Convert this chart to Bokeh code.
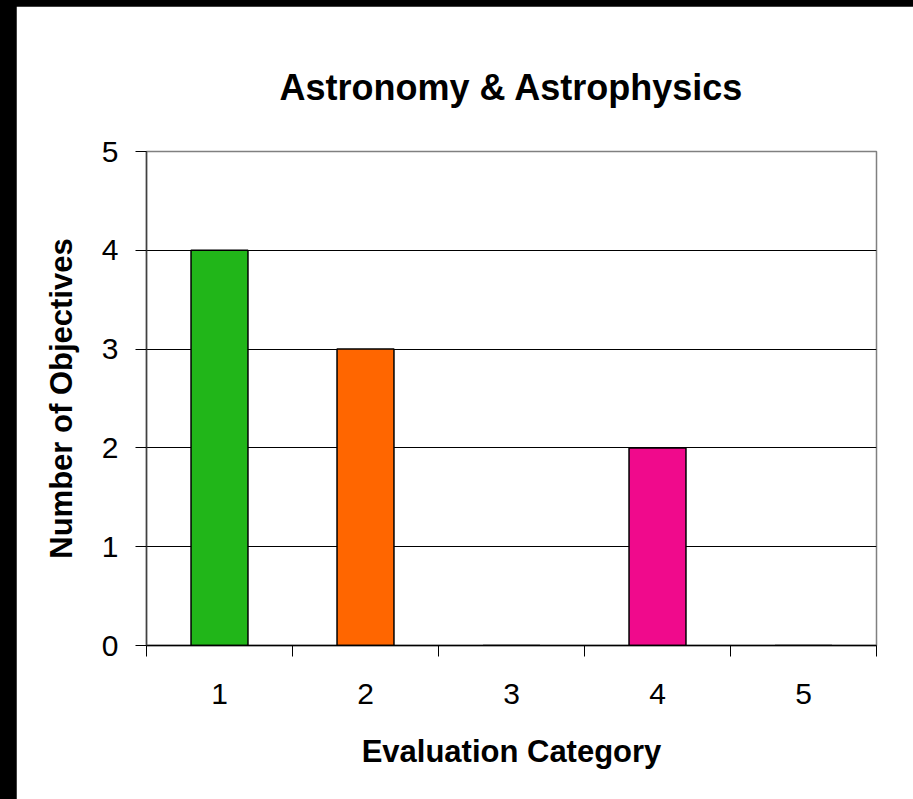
from bokeh.plotting import figure
from bokeh.models import FixedTicker, ColumnDataSource, Range1d
from bokeh.layouts import column
from bokeh.embed import file_html
from bokeh.resources import INLINE

categories = [1, 2, 3, 4, 5]
values = [4, 3, 0, 2, 0]
colors = ["#21B619", "#FF6600", "#F00A8C", "#F00A8C", "#FFFFFF"]
y_ticks = [0, 1, 2, 3, 4, 5]
title_text = "Astronomy & Astrophysics"
x_title = "Evaluation Category"
y_title = "Number of Objectives"

src = ColumnDataSource(dict(x=categories, top=values, color=colors))

p = figure(width=897, height=793, output_backend="svg", toolbar_location=None,
           x_range=Range1d(0.5, 5.5), y_range=Range1d(0, 5),
           min_border_left=130, min_border_right=37, min_border_top=145,
           min_border_bottom=154, background_fill_color="white",
           border_fill_color="white", title=title_text)
p.margin = (6, 0, 0, 16)

p.vbar(x="x", top="top", bottom=0, width=0.39, fill_color="color",
       line_color="black", line_width=1.5, source=src)

p.outline_line_color = "#808080"
p.outline_line_width = 1.5

p.title.align = "center"
p.title.text_font = "Liberation Sans"
p.title.text_font_size = "36px"
p.title.text_font_style = "bold"
p.title.text_color = "black"
p.title.standoff = 88

p.xgrid.grid_line_color = None
p.ygrid.ticker = FixedTicker(ticks=[1, 2, 3, 4])
p.ygrid.grid_line_color = "black"
p.ygrid.grid_line_width = 1

# x axis
p.xaxis.ticker = FixedTicker(ticks=categories, minor_ticks=[c - 0.5 for c in categories] + [categories[-1] + 0.5])
p.xaxis.major_tick_line_color = None
p.xaxis.major_tick_out = 11
p.xaxis.major_tick_in = 0
p.xaxis.minor_tick_line_color = "black"
p.xaxis.minor_tick_out = 11
p.xaxis.minor_tick_in = 0
p.xaxis.minor_tick_line_width = 1
p.xaxis.axis_line_color = "black"
p.xaxis.axis_line_width = 1.5
p.xaxis.major_label_text_font = "Liberation Sans"
p.xaxis.major_label_text_font_size = "30px"
p.xaxis.major_label_text_color = "black"
p.xaxis.major_label_standoff = 27
p.xaxis.axis_label = x_title
p.xaxis.axis_label_text_font = "Liberation Sans"
p.xaxis.axis_label_text_font_size = "31px"
p.xaxis.axis_label_text_font_style = "bold"
p.xaxis.axis_label_text_color = "black"
p.xaxis.axis_label_standoff = 27

# y axis
p.yaxis.ticker = FixedTicker(ticks=y_ticks)
p.yaxis.minor_tick_line_color = None
p.yaxis.major_tick_out = 11
p.yaxis.major_tick_in = 0
p.yaxis.major_tick_line_color = "black"
p.yaxis.axis_line_color = "#404040"
p.yaxis.axis_line_width = 1.5
p.yaxis.major_label_text_font = "Liberation Sans"
p.yaxis.major_label_text_font_size = "30px"
p.yaxis.major_label_text_color = "black"
p.yaxis.major_label_standoff = 17
p.yaxis.axis_label = y_title
p.yaxis.axis_label_text_font = "Liberation Sans"
p.yaxis.axis_label_text_font_size = "31px"
p.yaxis.axis_label_text_font_style = "bold"
p.yaxis.axis_label_text_color = "black"
p.yaxis.axis_label_standoff = 20

layout = column(p, width=913, height=799, styles={"background-color": "black"})

open("out.html", "w").write(file_html(layout, INLINE))
